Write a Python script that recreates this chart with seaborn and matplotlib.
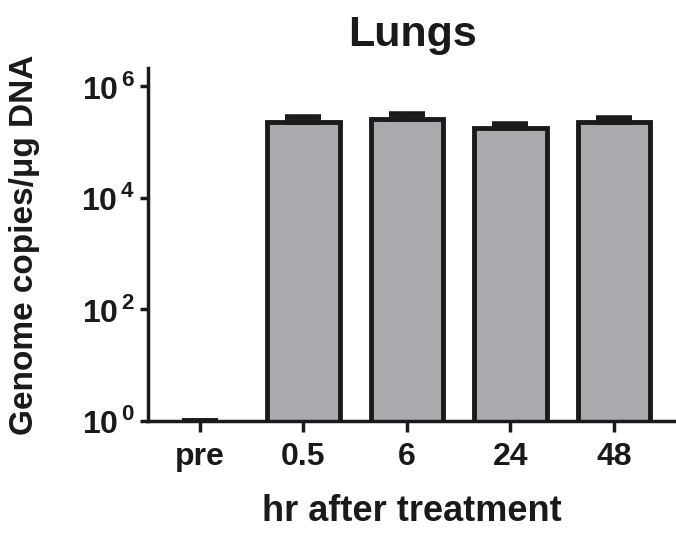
"""
Lungs - genome copies per ug DNA after treatment (log-scale bar chart)
"""

import math
import pandas as pd
import matplotlib
matplotlib.use("Agg")
import matplotlib.pyplot as plt
import matplotlib.ticker as mticker
import seaborn as sns

# -- Data ---------------------------------------------------------------------
timepoints = ["pre", "0.5", "6", "24", "48"]
copies = [1.0, 2.3e5, 2.6e5, 1.75e5, 2.3e5]
err_upper = [0.0, 0.5e5, 0.6e5, 0.35e5, 0.4e5]

# -- Style --------------------------------------------------------------------
sns.set_theme(style="ticks")
plt.rcParams["font.family"] = ["Liberation Sans", "DejaVu Sans"]
plt.rcParams["font.weight"] = "bold"
plt.rcParams["mathtext.fontset"] = "custom"
plt.rcParams["mathtext.rm"] = "Liberation Sans:bold"
plt.rcParams["mathtext.bf"] = "Liberation Sans:bold"

BAR_FILL = "#a9aaae"
INK = "#1a1a1a"

df = pd.DataFrame({"time": timepoints, "copies": copies})

fig = plt.figure(figsize=(6.76, 5.38), dpi=100)
ax = fig.add_axes([0.219, 0.2175, 0.781, 0.6565])

sns.barplot(data=df, x="time", y="copies", order=timepoints, color=BAR_FILL,
            edgecolor=INK, linewidth=3.5, width=0.7, saturation=1, ax=ax,
            errorbar=None)
# the "pre" bar sits on the baseline: keep its outline thin
ax.patches[0].set_linewidth(1.2)

ax.errorbar(range(len(timepoints)), copies, yerr=[[0] * len(copies), err_upper],
            fmt="none", ecolor=INK, elinewidth=3, capsize=13, capthick=4, zorder=1)

ax.set_yscale("log")
ax.set_ylim(1, 10 ** 6.33)
ax.set_xlim(-0.5, 4.6)
ax.yaxis.set_major_locator(mticker.FixedLocator([1, 1e2, 1e4, 1e6]))
ax.yaxis.set_minor_locator(mticker.NullLocator())
ax.yaxis.set_major_formatter(
    mticker.FuncFormatter(lambda v, _: r"$10^{\,%d}$" % round(math.log10(v))))

for side in ["top", "right"]:
    ax.spines[side].set_visible(False)
for side in ["left", "bottom"]:
    ax.spines[side].set_linewidth(2.5)
    ax.spines[side].set_color(INK)

ax.tick_params(axis="y", length=6, width=2.5, pad=3, labelsize=23, colors=INK)
ax.tick_params(axis="x", length=8, width=2.5, pad=7, labelsize=23, colors=INK)

ax.set_title("Lungs", fontsize=31, fontweight="bold", pad=16, color=INK)
ax.set_xlabel("hr after treatment", fontsize=26, fontweight="bold", labelpad=16, color=INK)
ax.set_ylabel("Genome copies/\u03bcg DNA", fontsize=24, fontweight="bold", labelpad=30, color=INK)

fig.savefig("out.png", dpi=100)
plt.close(fig)
